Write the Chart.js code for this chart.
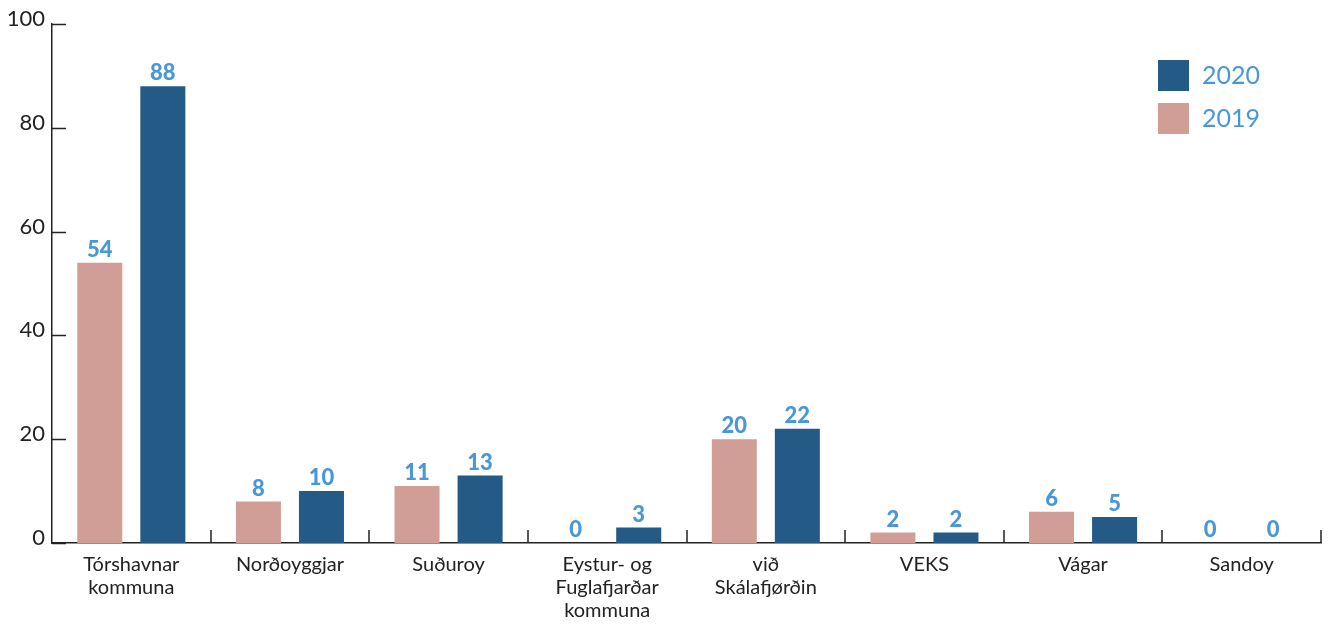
<!DOCTYPE html>
<html>
<head>
<meta charset="utf-8">
<script src="https://cdn.jsdelivr.net/npm/chart.js@4"></script>
<style>
  html, body { margin: 0; padding: 0; background: #fff; }
  #wrap { width: 1328px; height: 626px; }
</style>
</head>
<body>
<div id="wrap"><canvas id="chart" width="1328" height="626"></canvas></div>
<script>
// --- chart data ---
const categories = [
    ['Tórshavnar', 'kommuna'],
    'Norðoyggjar',
    'Suðuroy',
    ['Eystur- og', 'Fuglafjarðar', 'kommuna'],
    ['við', 'Skálafjørðin'],
    'VEKS',
    'Vágar',
    'Sandoy'
];
const values2019 = [54, 8, 11, 0, 20, 2, 6, 0];
const values2020 = [88, 10, 13, 3, 22, 2, 5, 0];
const yTicks = [0, 20, 40, 60, 80, 100];
const legendOrder = ['2020', '2019'];

const PINK = '#d09d97';
const BLUE = '#235a86';
const LABEL_BLUE = '#4a97d8';
const AXIS = '#222';

// --- value labels above each bar ---
const valueLabels = {
    id: 'valueLabels',
    afterDatasetsDraw(chart) {
        const ctx = chart.ctx;
        ctx.save();
        ctx.font = '900 22px Lato';
        ctx.fillStyle = LABEL_BLUE;
        ctx.textAlign = 'center';
        ctx.textBaseline = 'bottom';
        chart.data.datasets.forEach((ds, di) => {
            chart.getDatasetMeta(di).data.forEach((bar, i) => {
                ctx.fillText(String(ds.data[i]), bar.x, bar.y - 2);
            });
        });
        ctx.restore();
    }
};

// --- inward tick marks on both axes ---
const innerTicks = {
    id: 'innerTicks',
    afterDraw(chart) {
        const ctx = chart.ctx;
        const x = chart.scales.x, y = chart.scales.y;
        const area = chart.chartArea;
        ctx.save();
        ctx.strokeStyle = AXIS;
        ctx.lineWidth = 1.5;
        ctx.beginPath();
        y.ticks.forEach(t => {
            const py = Math.round(y.getPixelForValue(t.value)) + 0.5;
            ctx.moveTo(area.left, py);
            ctx.lineTo(area.left + 14, py);
        });
        for (let i = 1; i <= categories.length; i++) {
            const px = Math.round(x.getPixelForValue(i - 0.5));
            ctx.moveTo(px, area.bottom);
            ctx.lineTo(px, area.bottom - 13);
        }
        ctx.stroke();
        ctx.restore();
    }
};

// --- legend boxes top right ---
const cornerLegend = {
    id: 'cornerLegend',
    afterDraw(chart) {
        const ctx = chart.ctx;
        ctx.save();
        ctx.font = '25px Lato';
        ctx.textBaseline = 'middle';
        legendOrder.forEach((name, k) => {
            const ds = chart.data.datasets.find(d => d.label === name);
            const top = 60 + k * 43;
            ctx.fillStyle = ds.backgroundColor;
            ctx.fillRect(1158, top, 31, 31);
            ctx.fillStyle = LABEL_BLUE;
            ctx.fillText(name, 1202, top + 16);
        });
        ctx.restore();
    }
};

new Chart(document.getElementById('chart'), {
    type: 'bar',
    data: {
        labels: categories,
        datasets: [
            { label: '2019', data: values2019, backgroundColor: PINK },
            { label: '2020', data: values2020, backgroundColor: BLUE }
        ]
    },
    options: {
        responsive: false,
        animation: false,
        events: [],
        layout: { padding: { top: 24, right: 7, left: 0, bottom: 0 } },
        datasets: { bar: { categoryPercentage: 0.795, barPercentage: 0.714 } },
        plugins: { legend: { display: false }, tooltip: { enabled: false } },
        scales: {
            x: {
                grid: { display: false, drawTicks: false },
                border: { display: true, color: AXIS, width: 1.5 },
                ticks: {
                    color: AXIS,
                    font: { family: 'Lato', size: 20, lineHeight: 1.15 },
                    padding: 10,
                    maxRotation: 0,
                    autoSkip: false
                },
                afterFit(scale) { scale.height = 83; }
            },
            y: {
                min: 0,
                max: 100,
                afterBuildTicks(scale) { scale.ticks = yTicks.map(v => ({ value: v })); },
                grid: { display: false, drawTicks: false },
                border: { display: true, color: AXIS, width: 1.5 },
                ticks: {
                    color: AXIS,
                    font: { family: 'Lato', size: 22 },
                    padding: 7,
                    labelOffset: -5
                },
                afterFit(scale) { scale.width = 52; }
            }
        }
    },
    plugins: [valueLabels, innerTicks, cornerLegend]
});
</script>
</body>
</html>
